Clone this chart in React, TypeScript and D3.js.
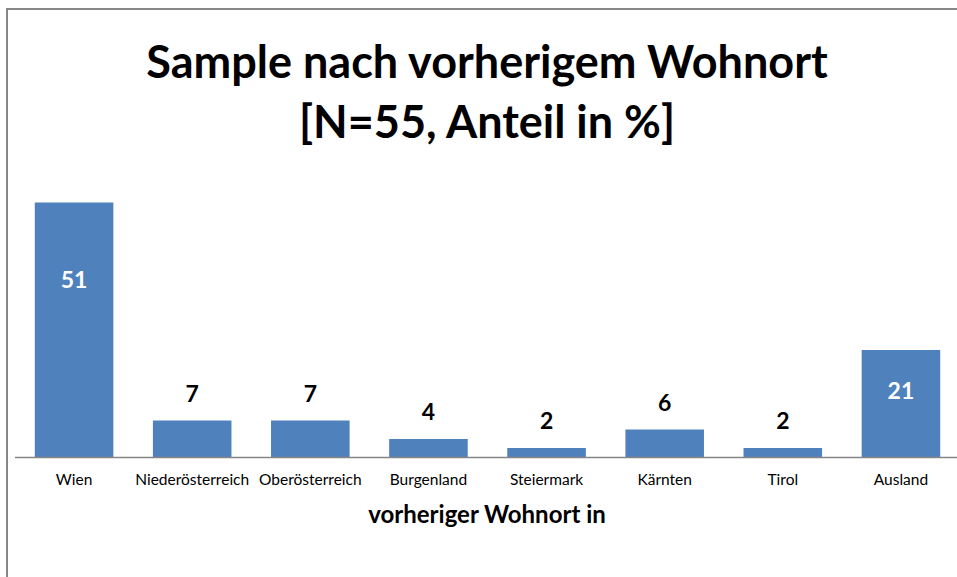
import React from 'react'
import * as d3 from 'd3'

// Anteil in %, N=55
const categories = ['Wien', 'Niederösterreich', 'Oberösterreich', 'Burgenland', 'Steiermark', 'Kärnten', 'Tirol', 'Ausland']
const values = [50.9, 7.3, 7.3, 3.6, 1.8, 5.5, 1.8, 21.4]
const insideLabel = [true, false, false, false, false, false, false, true]

const titleLines = ['Sample nach vorherigem Wohnort', '[N=55, Anteil in %]']
const xTitle = 'vorheriger Wohnort in'

const W = 957
const H = 577
const font = 'Lato, "Open Sans", sans-serif'

export default function App() {
  const x = d3.scaleBand()
    .domain(categories)
    .range([15, 960])
    .paddingInner(0.335)
    .paddingOuter(0.1675)

  const y = d3.scaleLinear()
    .domain([0, 60])
    .range([457, 157])

  const fmt = d3.format('.0f')

  return (
    <svg width={W} height={H} style={{ position: 'absolute', left: 0, top: 0, background: '#fff' }}>
      <rect x={7} y={9} width={W + 20} height={H + 20} fill="#fff" stroke="#868686" strokeWidth={2} />

      {titleLines.map((t, i) => (
        <text key={t} x={487} y={78 + i * 60} textAnchor="middle"
          fontFamily={font} fontWeight="bold" fontSize={45} fill="#000">{t}</text>
      ))}

      {categories.map((c, i) => {
        const v = values[i]
        const bx = x(c) as number
        const top = y(v)
        const cx = bx + x.bandwidth() / 2
        // inside labels sit in the upper part of the bar, others just above it
        const ly = insideLabel[i] ? top + (y(0) - top) * 0.25 + 22 : top - 19
        return (
          <g key={c}>
            <rect x={bx} y={top} width={x.bandwidth()} height={y(0) - top} fill="#4f81bd" />
            <text x={cx} y={ly} textAnchor="middle" fontFamily={font} fontWeight="bold"
              fontSize={23} fill={insideLabel[i] ? '#fff' : '#000'}>{fmt(v)}</text>
            <text x={cx} y={485} textAnchor="middle" fontFamily={font} fontSize={15.5} fill="#000">{c}</text>
          </g>
        )
      })}

      <line x1={15} x2={W} y1={457.5} y2={457.5} stroke="#868686" strokeWidth={1.5} />

      <text x={487} y={523} textAnchor="middle" fontFamily={font} fontWeight="bold" fontSize={24} fill="#000">{xTitle}</text>
    </svg>
  )
}
